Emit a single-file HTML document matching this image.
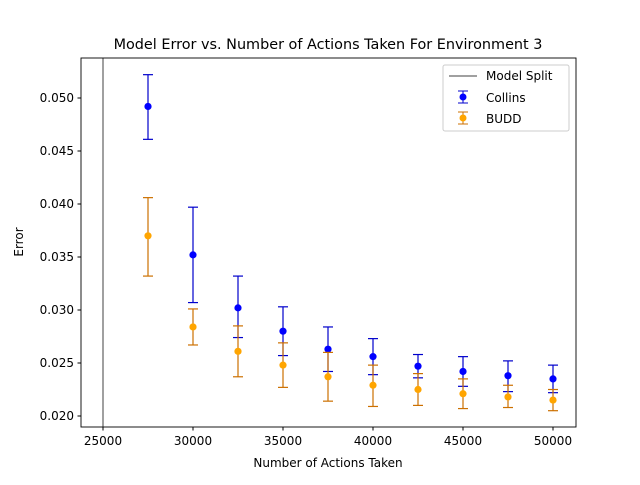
<!DOCTYPE html>
<html><head><meta charset="utf-8"><style>
body{margin:0;background:#fff;}
svg text{font-family:"DejaVu Sans","Liberation Sans",sans-serif;fill:#000;}
</style></head><body>
<svg id="chart" width="640" height="480" xmlns="http://www.w3.org/2000/svg">
<rect width="640" height="480" fill="#fff"/>
<text x="328" y="49" font-size="14.4" text-anchor="middle">Model Error vs. Number of Actions Taken For Environment 3</text>
<g id="plot"></g>
<rect x="81" y="58" width="495" height="369" fill="none" stroke="#000" stroke-width="0.9"/>
<text x="328" y="467" font-size="12" text-anchor="middle">Number of Actions Taken</text>
<text transform="translate(23,242) rotate(-90)" font-size="12" text-anchor="middle">Error</text>
<g>
<rect x="443" y="65" width="126" height="66" fill="#fff" stroke="#ccc" rx="2"/>
<line x1="449" y1="76" x2="477" y2="76" stroke="#808080" stroke-width="1.5"/>
<text x="486" y="80" font-size="12">Model Split</text>
<line x1="463" y1="91" x2="463" y2="103" stroke="#0000cc"/><line x1="458" y1="91" x2="468" y2="91" stroke="#0000cc"/><line x1="458" y1="103" x2="468" y2="103" stroke="#0000cc"/>
<circle cx="463" cy="97" r="3.5" fill="#0000ff"/>
<text x="486" y="102" font-size="12">Collins</text>
<line x1="463" y1="112" x2="463" y2="124" stroke="#cc7000"/><line x1="458" y1="112" x2="468" y2="112" stroke="#cc7000"/><line x1="458" y1="124" x2="468" y2="124" stroke="#cc7000"/>
<circle cx="463" cy="118" r="3.5" fill="#ffa500"/>
<text x="486" y="123" font-size="12">BUDD</text>
</g>
</svg>
<script>
const xs=[27500,30000,32500,35000,37500,40000,42500,45000,47500,50000];
const collins=[0.0492,0.0352,0.0302,0.0280,0.0263,0.0256,0.0247,0.0242,0.0238,0.0235];
const collinsLo=[0.0461,0.0307,0.0274,0.0257,0.0242,0.0239,0.0236,0.0228,0.0223,0.0222];
const collinsHi=[0.0522,0.0397,0.0332,0.0303,0.0284,0.0273,0.0258,0.0256,0.0252,0.0248];
const budd=[0.0370,0.0284,0.0261,0.0248,0.0237,0.0229,0.0225,0.0221,0.0218,0.0215];
const buddLo=[0.0332,0.0267,0.0237,0.0227,0.0214,0.0209,0.0210,0.0207,0.0208,0.0205];
const buddHi=[0.0406,0.0301,0.0285,0.0269,0.0260,0.0248,0.0240,0.0235,0.0229,0.0225];
const xTicks=[25000,30000,35000,40000,45000,50000];
const yTicks=[0.020,0.025,0.030,0.035,0.040,0.045,0.050];
const splitX=25000;
const X=v=>103+(v-25000)*450/25000;
const Y=v=>416-(v-0.020)*318/0.030;
const NS="http://www.w3.org/2000/svg";
const g=document.getElementById('plot');
function mk(t,a){const e=document.createElementNS(NS,t);for(const k in a)e.setAttribute(k,a[k]);g.appendChild(e);return e;}
xTicks.forEach(t=>{
 const l=mk('line',{x1:X(t),x2:X(t),y1:427,y2:430.5,stroke:'#000'});
 
 
 const tx=mk('text',{x:X(t),y:445,'font-size':12,'text-anchor':'middle'});tx.textContent=t;
 
 
});
yTicks.forEach(t=>{
 const l=mk('line',{x1:77.5,x2:81,y1:Y(t),y2:Y(t),stroke:'#000'});
 
 
 const tx=mk('text',{x:74,y:Y(t)+4,'font-size':12,'text-anchor':'end'});tx.textContent=t.toFixed(3);
 
 
});
const sl=mk('line',{x1:X(splitX),x2:X(splitX),y1:58,y2:427,stroke:'#808080','stroke-width':1.5});


function series(vals,lo,hi,ec,fc,name){
 xs.forEach((x,i)=>{
  const cx=X(x);
  [[cx,cx,Y(lo[i]),Y(hi[i])],[cx-5,cx+5,Y(lo[i]),Y(lo[i])],[cx-5,cx+5,Y(hi[i]),Y(hi[i])]].forEach(s=>{
   const l=mk('line',{x1:s[0],x2:s[1],y1:s[2],y2:s[3],stroke:ec,'stroke-width':1.2});
   
   
  });
  const c=mk('circle',{cx:cx,cy:Y(vals[i]),r:3.6,fill:fc});
  
  
 });
}
series(collins,collinsLo,collinsHi,'#0000cc','#0000ff','collins');
series(budd,buddLo,buddHi,'#cc7000','#ffa500','budd');
</script>
</body></html>
